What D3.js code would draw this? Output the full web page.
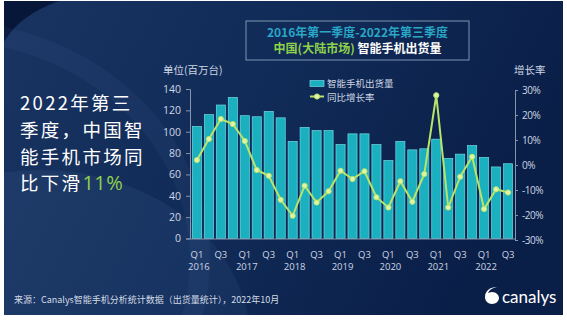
<!DOCTYPE html>
<html><head><meta charset="utf-8">
<script src="https://cdn.jsdelivr.net/npm/d3@7"></script>
<style>html,body{margin:0;padding:0;background:#fff;}svg{display:block;}</style>
</head><body>
<script>
const quarters = ["Q1","Q2","Q3","Q4"];
const years = ["2016","2017","2018","2019","2020","2021","2022"];
const shipments = [105,116,125,132,115,114,119,113,91,104,101,101,88,98,98,88,73,91,83,84,93,75,79,87,76,67,70];
const growth = [2,10.4,18.4,16.4,9.6,-2,-4.3,-13.9,-20.3,-8.3,-15,-10.5,-2.3,-5.6,-2.5,-12.9,-17,-6.5,-14.7,-3.6,27.9,-17,-4.7,3.3,-17.6,-9.7,-11];
const leftTicks = [0,20,40,60,80,100,120,140];
const rightTicks = [-30,-20,-10,0,10,20,30];
const titleLine1 = "2016年第一季度-2022年第三季度";
const titleLine2a = "中国(大陆市场)";
const titleLine2b = " 智能手机出货量";
const headline = ["2022年第三","季度，中国智","能手机市场同","比下滑"];
const headlinePct = "11%";
const legendLabels = ["智能手机出货量","同比增长率"];
const source = "来源：Canalys智能手机分析统计数据（出货量统计），2022年10月";

const labels = shipments.map((d,i)=>({q: quarters[i%4], y: years[Math.floor(i/4)], i}));

const W=567,H=322;
const svg = d3.select("body").append("svg").attr("width",W).attr("height",H);
const defs = svg.append("defs");
const bg = defs.append("linearGradient").attr("id","bg").attr("x1","0").attr("y1","0").attr("x2","1").attr("y2","0.3");
bg.append("stop").attr("offset","0").attr("stop-color","#1a3462");
bg.append("stop").attr("offset","0.5").attr("stop-color","#112b58");
bg.append("stop").attr("offset","1").attr("stop-color","#0a1f48");
defs.append("clipPath").attr("id","panel").append("rect").attr("x",4).attr("y",1).attr("width",559).attr("height",314);

const panel = svg.append("g").attr("clip-path","url(#panel)");
panel.append("rect").attr("x",4).attr("y",1).attr("width",559).attr("height",314).attr("fill","url(#bg)");
panel.append("path").attr("d","M0,0 L62,0 Q20,14 4,42 L0,42 Z").attr("fill","#071739");
panel.append("ellipse").attr("cx",40).attr("cy",340).attr("rx",210).attr("ry",170).attr("fill","rgba(120,160,220,0.08)");
panel.append("ellipse").attr("cx",-60).attr("cy",260).attr("rx",260).attr("ry",230).attr("fill","none").attr("stroke","rgba(140,180,230,0.05)").attr("stroke-width",20);

const x = d3.scaleBand().domain(d3.range(shipments.length)).range([190,515]).paddingInner(0.24).paddingOuter(0.2);
const yL = d3.scaleLinear().domain([0,140]).range([238.5,89]);
const yR = d3.scaleLinear().domain([-30,30]).range([240,90]);

const numFont = "'Open Sans', 'Noto Sans', sans-serif";
const cjk = "'Noto Sans CJK SC', sans-serif";
const axisCol = "#cdd6e3";

svg.append("g").selectAll("rect").data(shipments).join("rect")
  .attr("x",(d,i)=>x(i)).attr("width",x.bandwidth())
  .attr("y",d=>yL(d)).attr("height",d=>yL(0)-yL(d))
  .attr("fill","#1bb0c0").attr("stroke","#6fd9e3").attr("stroke-width",0.7);

const gL = svg.append("g").attr("transform","translate(190,0)")
  .call(d3.axisLeft(yL).tickValues(leftTicks).tickSize(4).tickPadding(5));
gL.selectAll("text").attr("fill",axisCol).style("font-family",numFont).style("font-size","10.5px");
gL.selectAll("line,path").attr("stroke","#8595ad");
const gR = svg.append("g").attr("transform","translate(515,0)")
  .call(d3.axisRight(yR).tickValues(rightTicks).tickSize(3).tickPadding(4).tickFormat(d=>d+"%"));
gR.selectAll("text").attr("fill",axisCol).style("font-family",numFont).style("font-size","10px").attr("letter-spacing","-0.5");
gR.selectAll("line,path").attr("stroke","#8595ad");
const gB = svg.append("g").attr("transform","translate(0,238.5)")
  .call(d3.axisBottom(x).tickSize(0).tickFormat(""));
gB.select("path").attr("stroke","#8595ad");
const xl = svg.append("g").style("font-family",numFont).style("font-size","9.5px").attr("fill",axisCol).attr("text-anchor","middle");
xl.selectAll("text.q").data(labels.filter(d=>d.i%2===0 && d.i%4!==1)).join("text").attr("class","q")
  .attr("x",d=>x(d.i)+x.bandwidth()/2).attr("y",258).text(d=>d.q);
xl.selectAll("text.yr").data(labels.filter(d=>d.i%4===0)).join("text").attr("class","yr")
  .attr("x",d=>x(d.i)+x.bandwidth()/2+2).attr("y",270).text(d=>d.y);

const line = d3.line().x((d,i)=>x(i)+x.bandwidth()/2).y(d=>yR(d));
svg.append("path").datum(growth).attr("d",line).attr("fill","none").attr("stroke","#b9e46a").attr("stroke-width",2);
svg.append("g").selectAll("circle").data(growth).join("circle")
  .attr("cx",(d,i)=>x(i)+x.bandwidth()/2).attr("cy",d=>yR(d)).attr("r",2.6)
  .attr("fill","#e3f3a8").attr("stroke","#b9e46a").attr("stroke-width",1);

svg.append("text").attr("x",163).attr("y",74).text("单位(百万台)").attr("fill",axisCol).style("font-family",cjk).style("font-size","10.5px");
svg.append("text").attr("x",514).attr("y",74).text("增长率").attr("fill",axisCol).style("font-family",cjk).style("font-size","10.5px");

const lg = svg.append("g").style("font-family",cjk).style("font-size","9.5px").attr("fill",axisCol);
lg.append("rect").attr("x",310).attr("y",80.5).attr("width",14).attr("height",6).attr("fill","#1bb0c0").attr("stroke","#6fd9e3").attr("stroke-width",0.7);
lg.append("text").attr("x",327).attr("y",87).text(legendLabels[0]);
lg.append("line").attr("x1",310).attr("x2",324).attr("y1",96.5).attr("y2",96.5).attr("stroke","#b9e46a").attr("stroke-width",2);
lg.append("circle").attr("cx",317).attr("cy",96.5).attr("r",2.6).attr("fill","#e3f3a8").attr("stroke","#b9e46a");
lg.append("text").attr("x",327).attr("y",100.5).text(legendLabels[1]);

svg.append("rect").attr("x",246).attr("y",21).attr("width",223).attr("height",39).attr("fill","none").attr("stroke","#7f93b0").attr("stroke-width",1);
svg.append("text").attr("x",357.5).attr("y",37).attr("text-anchor","middle").text(titleLine1)
  .attr("fill","#2aa6c6").style("font-family",cjk).style("font-size","12px").style("font-weight","bold");
const t2 = svg.append("text").attr("x",357.5).attr("y",53).attr("text-anchor","middle").style("font-family",cjk).style("font-size","12px").style("font-weight","bold");
t2.append("tspan").text(titleLine2a).attr("fill","#8fd14a");
t2.append("tspan").text(titleLine2b).attr("fill","#ffffff");

const hl = svg.append("g").style("font-family",cjk).style("font-size","18.5px").attr("fill","#ffffff").attr("letter-spacing","2.3");
const hy = [110,137,164,190];
headline.forEach((s,i)=>{
  const t = hl.append("text").attr("x",20).attr("y",hy[i]);
  t.append("tspan").text(s);
  if(i===3) t.append("tspan").text(headlinePct).attr("fill","#8fd14a").attr("letter-spacing","0.5").style("font-size","20px").style("font-family","'Open Sans', sans-serif");
});

svg.append("text").attr("x",14).attr("y",303).text(source).attr("fill","#d4dbe6").style("font-family",cjk).style("font-size","9px");

const logo = svg.append("g").attr("fill","#ffffff");
logo.append("path").attr("d","M497,287 C490,287 485,291 485,297 C485,301 488,304 492,304 C496,304 499,301 499,298 C499,295 496,292 492,292 C490,292 489,293 488,293 C489,290 492,288 497,287 Z");
logo.append("text").attr("x",502).attr("y",303).text("canalys").style("font-family","Lato, 'Open Sans', sans-serif").style("font-size","17px");
</script>
</body></html>
